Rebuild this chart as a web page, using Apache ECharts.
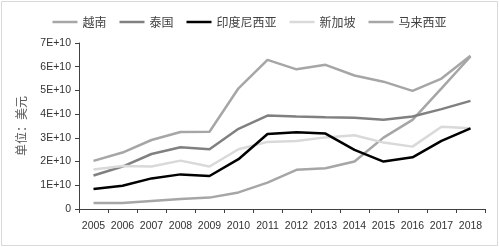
<!DOCTYPE html>
<html>
<head>
<meta charset="utf-8">
<script src="https://cdn.jsdelivr.net/npm/echarts@6/dist/echarts.min.js"></script>
<style>
  html, body { margin: 0; padding: 0; background: #fff; }
  #main { width: 499px; height: 247px; }
</style>
</head>
<body>
<div id="main"></div>
<script>
// 年份
var years = ['2005', '2006', '2007', '2008', '2009', '2010', '2011',
    '2012', '2013', '2014', '2015', '2016', '2017', '2018'];
// 各国数据，单位：美元
var vietnam = [0.25e10, 0.25e10, 0.34e10, 0.42e10, 0.48e10, 0.70e10, 1.11e10,
    1.65e10, 1.72e10, 2.00e10, 3.01e10, 3.76e10, 5.09e10, 6.43e10];
var thailand = [1.41e10, 1.79e10, 2.32e10, 2.60e10, 2.52e10, 3.38e10, 3.94e10,
    3.90e10, 3.87e10, 3.85e10, 3.76e10, 3.90e10, 4.21e10, 4.56e10];
var indonesia = [0.84e10, 0.98e10, 1.29e10, 1.46e10, 1.39e10, 2.10e10, 3.16e10,
    3.24e10, 3.18e10, 2.49e10, 2.00e10, 2.18e10, 2.87e10, 3.40e10];
var singapore = [1.67e10, 1.81e10, 1.79e10, 2.04e10, 1.79e10, 2.52e10, 2.83e10,
    2.87e10, 3.02e10, 3.11e10, 2.80e10, 2.63e10, 3.47e10, 3.40e10];
var malaysia = [2.03e10, 2.38e10, 2.91e10, 3.25e10, 3.26e10, 5.09e10, 6.29e10,
    5.89e10, 6.08e10, 5.63e10, 5.37e10, 4.98e10, 5.50e10, 6.46e10];

var names = ['越南', '泰国', '印度尼西亚', '新加坡', '马来西亚'];
var colors = ['#a6a6a6', '#808080', '#000000', '#d9d9d9', '#a6a6a6'];
var seriesData = [vietnam, thailand, indonesia, singapore, malaysia];

var chart = echarts.init(document.getElementById('main'));

var series = [];
seriesData.forEach(function (d, i) {
    series.push({
        name: names[i],
        type: 'line',
        data: d,
        symbol: 'none',
        lineStyle: { color: colors[i], width: 2.5 },
        itemStyle: { color: colors[i] },
        z: i == 2 ? 5 : 2
    });
});

var option = {
    animation: false,
    graphic: [{
        type: 'rect',
        shape: { x: 1.5, y: 1.5, width: 496, height: 244 },
        style: { fill: 'none', stroke: '#d9d9d9', lineWidth: 1 }
    }],
    legend: {
        data: names,
        top: 11,
        left: 'center',
        icon: 'rect',
        itemWidth: 25,
        itemHeight: 2.5,
        itemGap: 13,
        textStyle: { fontFamily: 'Noto Sans CJK SC', fontSize: 12, color: '#404040' }
    },
    grid: { left: 79, right: 14, top: 43, bottom: 38 },
    xAxis: {
        type: 'category',
        data: years,
        boundaryGap: true,
        axisLine: { lineStyle: { color: '#404040', width: 1 } },
        axisTick: { show: true, length: 4, interval: 0, lineStyle: { color: '#404040' } },
        axisLabel: { interval: 0, margin: 12, fontSize: 10.5, color: '#333', fontFamily: 'Liberation Sans' }
    },
    yAxis: {
        type: 'value',
        min: 0,
        max: 7e10,
        interval: 1e10,
        name: '单位：美元',
        nameLocation: 'middle',
        nameGap: 52,
        nameTextStyle: { fontFamily: 'Noto Sans CJK SC', fontSize: 12, color: '#595959' },
        axisLine: { show: true, lineStyle: { color: '#404040', width: 1 } },
        axisTick: { show: true, length: 4, lineStyle: { color: '#404040' } },
        splitLine: { show: false },
        axisLabel: {
            margin: 8,
            fontSize: 10.5,
            color: '#333',
            fontFamily: 'Liberation Sans',
            formatter: function (v) {
                if (v === 0) return '0';
                return Math.round(v / 1e10) + 'E+10';
            }
        }
    },
    series: series
};
chart.setOption(option);
</script>
</body>
</html>
